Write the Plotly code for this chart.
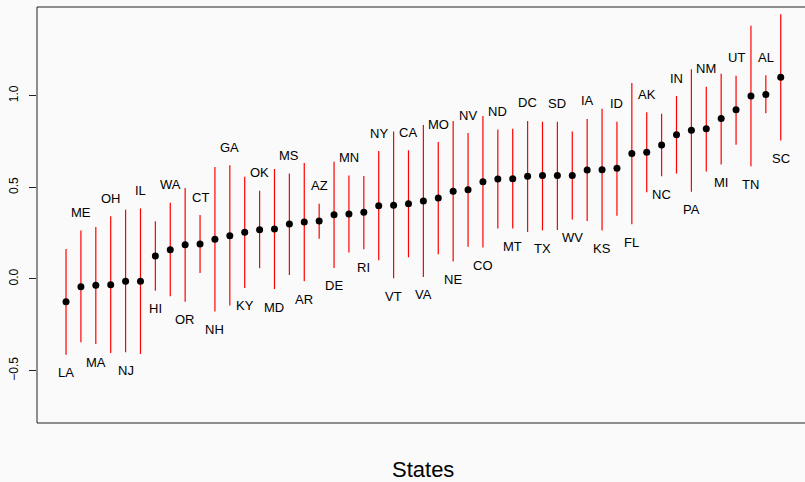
import plotly.graph_objects as go

# State estimates with interval bounds, sorted by estimate
states = ["LA", "ME", "MA", "OH", "NJ", "IL", "HI", "WA", "OR", "CT",
          "NH", "GA", "KY", "OK", "MD", "MS", "AR", "AZ", "DE", "MN",
          "RI", "NY", "VT", "CA", "VA", "MO", "NE", "NV", "CO", "ND",
          "MT", "DC", "TX", "SD", "WV", "IA", "KS", "ID", "FL", "AK",
          "NC", "IN", "PA", "NM", "MI", "UT", "TN", "AL", "SC"]
estimate = [-0.124, -0.042, -0.035, -0.031, -0.013, -0.013, 0.125, 0.160, 0.187, 0.191,
            0.216, 0.236, 0.255, 0.269, 0.273, 0.300, 0.311, 0.316, 0.351, 0.355,
            0.364, 0.400, 0.402, 0.411, 0.425, 0.442, 0.478, 0.487, 0.531, 0.545,
            0.547, 0.560, 0.564, 0.564, 0.565, 0.595, 0.596, 0.604, 0.685, 0.691,
            0.731, 0.787, 0.811, 0.820, 0.875, 0.924, 0.998, 1.007, 1.100]
upper = [0.164, 0.264, 0.284, 0.342, 0.378, 0.385, 0.315, 0.416, 0.496, 0.349,
         0.611, 0.620, 0.558, 0.482, 0.600, 0.575, 0.633, 0.411, 0.640, 0.565,
         0.562, 0.698, 0.804, 0.702, 0.840, 0.747, 0.862, 0.796, 0.889, 0.815,
         0.820, 0.862, 0.858, 0.858, 0.804, 0.873, 0.929, 0.858, 1.069, 0.909,
         0.902, 0.998, 1.145, 1.049, 1.120, 1.109, 1.382, 1.111, 1.444]
lower = [-0.413, -0.345, -0.355, -0.404, -0.400, -0.409, -0.064, -0.095, -0.124, 0.033,
         -0.178, -0.145, -0.049, 0.058, -0.055, 0.022, -0.013, 0.220, 0.060, 0.144,
         0.162, 0.102, 0.004, 0.118, 0.011, 0.135, 0.095, 0.176, 0.171, 0.276,
         0.275, 0.256, 0.265, 0.267, 0.324, 0.316, 0.265, 0.345, 0.298, 0.473,
         0.560, 0.575, 0.476, 0.587, 0.625, 0.733, 0.615, 0.904, 0.755]
y_ticks = [-0.5, 0.0, 0.5, 1.0]
x_title = "States"

FONT = "Liberation Sans, Arial, Helvetica, sans-serif"
BG = "#fafafa"
idx = list(range(len(states)))

fig = go.Figure()

# vertical interval segments
seg_x, seg_y = [], []
for i, lo, hi in zip(idx, lower, upper):
    seg_x += [i, i, None]
    seg_y += [lo, hi, None]
fig.add_trace(go.Scatter(x=seg_x, y=seg_y, mode="lines",
                         line=dict(color="#ff0000", width=1.2),
                         hoverinfo="skip", showlegend=False))

# point estimates
fig.add_trace(go.Scatter(x=idx, y=estimate, mode="markers",
                         marker=dict(color="black", size=7),
                         text=states, showlegend=False))

# state labels alternate below the lower bound and above the upper bound
for i, s in enumerate(states):
    below = (i % 2 == 0)
    fig.add_annotation(x=i, y=lower[i] if below else upper[i],
                       text=s, showarrow=False,
                       yshift=-18 if below else 18,
                       xanchor="center", yanchor="middle",
                       font=dict(family=FONT, size=13, color="black"))

# axis title below the plot
fig.add_annotation(x=24, xref="x", y=-0.112, yref="paper",
                   text=x_title, showarrow=False,
                   xanchor="center", yanchor="middle",
                   font=dict(family=FONT, size=22, color="black"))

# box frame (left, top, bottom)
for x0, y0, x1, y1 in [(0, 0, 0, 1), (0, 1, 1.01, 1), (0, 0, 1.01, 0)]:
    fig.add_shape(type="line", xref="paper", yref="paper",
                  x0=x0, y0=y0, x1=x1, y1=y1,
                  line=dict(color="#222222", width=1))

fig.update_xaxes(range=[-1.95, 49.63], showgrid=False, zeroline=False,
                 showticklabels=False, ticks="", showline=False)
fig.update_yaxes(range=[-0.786, 1.484], showgrid=False, zeroline=False,
                 tickvals=y_ticks, ticktext=["\u22120.5", "0.0", "0.5", "1.0"],
                 ticks="outside", ticklen=7, tickcolor="#222222", tickwidth=1,
                 tickangle=-90, ticklabelstandoff=6,
                 tickfont=dict(family=FONT, size=12, color="black"),
                 showline=False)

fig.update_layout(width=805, height=482,
                  margin=dict(l=37, r=0, t=7, b=59),
                  paper_bgcolor=BG, plot_bgcolor=BG,
                  showlegend=False)

fig.write_html("out.html")
